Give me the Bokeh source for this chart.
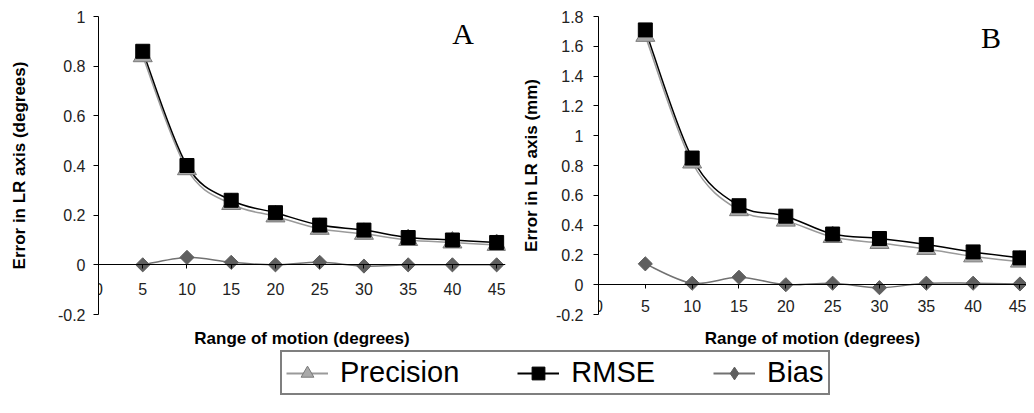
from bokeh.plotting import figure
from bokeh.layouts import column, row
from bokeh.models import (ColumnDataSource, FixedTicker, Label, Legend, LegendItem,
                          LinearAxis, Range1d)
from bokeh.embed import file_html
from bokeh.resources import INLINE

# ---------------- data ----------------
motion = [5, 10, 15, 20, 25, 30, 35, 40, 45]

a_precision = [0.84, 0.385, 0.245, 0.195, 0.145, 0.125, 0.10, 0.09, 0.08]
a_rmse = [0.86, 0.40, 0.26, 0.21, 0.16, 0.14, 0.11, 0.10, 0.09]
a_bias = [0.0, 0.03, 0.01, 0.0, 0.01, -0.005, 0.0, 0.0, 0.0]

b_precision = [1.67, 0.82, 0.50, 0.43, 0.32, 0.28, 0.24, 0.19, 0.155]
b_rmse = [1.71, 0.85, 0.53, 0.46, 0.34, 0.31, 0.27, 0.22, 0.18]
b_bias = [0.14, 0.01, 0.05, 0.0, 0.01, -0.02, 0.01, 0.01, 0.005]

x_ticks = [0, 5, 10, 15, 20, 25, 30, 35, 40, 45]
a_y_ticks = [-0.2, 0, 0.2, 0.4, 0.6, 0.8, 1]
a_y_labels = ["-0.2", "0", "0.2", "0.4", "0.6", "0.8", "1"]
b_y_ticks = [-0.2, 0, 0.2, 0.4, 0.6, 0.8, 1, 1.2, 1.4, 1.6, 1.8]
b_y_labels = ["-0.2", "0", "0.2", "0.4", "0.6", "0.8", "1", "1.2", "1.4", "1.6", "1.8"]

series_names = ["Precision", "RMSE", "Bias"]
x_title = "Range of motion (degrees)"
a_y_title = "Error in LR axis (degrees)"
b_y_title = "Error in LR axis (mm)"

# ---------------- styles ----------------
SANS = "Liberation Sans"
SERIF = "Liberation Serif"
PREC_FILL = "#a9a9a9"
PREC_EDGE = "#7a7a7a"
PREC_LINE = "#9a9a9a"
BIAS_FILL = "#5f5f5f"
BIAS_LINE = "#727272"


def smooth_source(xs, ys):
    """Catmull-Rom segments expressed as cubic Bezier control points."""
    n = len(xs)
    d = dict(x0=[], y0=[], x1=[], y1=[], cx0=[], cy0=[], cx1=[], cy1=[])
    for i in range(n - 1):
        p0 = (xs[max(i - 1, 0)], ys[max(i - 1, 0)])
        p1 = (xs[i], ys[i])
        p2 = (xs[i + 1], ys[i + 1])
        p3 = (xs[min(i + 2, n - 1)], ys[min(i + 2, n - 1)])
        d["x0"].append(p1[0]); d["y0"].append(p1[1])
        d["x1"].append(p2[0]); d["y1"].append(p2[1])
        d["cx0"].append(p1[0] + (p2[0] - p0[0]) / 6.0)
        d["cy0"].append(p1[1] + (p2[1] - p0[1]) / 6.0)
        d["cx1"].append(p2[0] - (p3[0] - p1[0]) / 6.0)
        d["cy1"].append(p2[1] - (p3[1] - p1[1]) / 6.0)
    return ColumnDataSource(d)


def panel(width, height, xmax, ymin, ymax, yticks, ylabels, ytitle, prec, rmse, bias,
          mb_left, mb_right, ylab_standoff, ytick_standoff,
          xtick_standoff, letter, letter_x, letter_y):
    p = figure(width=width, height=height, x_range=(0, xmax), y_range=(ymin, ymax),
               output_backend="svg", toolbar_location=None,
               min_border_left=mb_left, min_border_right=mb_right,
               min_border_top=16, min_border_bottom=36,
               x_axis_location="below", y_axis_location="left")
    p.outline_line_color = None
    p.background_fill_color = "white"
    p.border_fill_color = "white"
    p.xgrid.visible = False
    p.ygrid.visible = False

    # y axis
    yax = p.yaxis[0]
    yax.ticker = FixedTicker(ticks=yticks)
    yax.major_label_overrides = {t: l for t, l in zip(yticks, ylabels)}
    yax.minor_tick_line_color = None
    yax.major_tick_in = 0
    yax.major_tick_out = 5
    yax.major_label_standoff = ytick_standoff
    yax.major_label_text_font = SANS
    yax.major_label_text_font_size = "16px"
    yax.major_label_text_color = "#222222"
    yax.axis_line_color = "black"
    yax.major_tick_line_color = "black"
    yax.axis_label = ytitle
    yax.axis_label_text_font = SANS
    yax.axis_label_text_font_size = "17px"
    yax.axis_label_text_font_style = "bold"
    yax.axis_label_text_color = "black"
    yax.axis_label_standoff = ylab_standoff

    # x axis at y = 0
    xax = p.xaxis[0]
    xax.fixed_location = 0
    xax.ticker = FixedTicker(ticks=x_ticks)
    xax.minor_tick_line_color = None
    xax.major_tick_in = 0
    xax.major_tick_out = 4
    xax.major_label_standoff = xtick_standoff
    xax.major_label_text_font = SANS
    xax.major_label_text_font_size = "16px"
    xax.major_label_text_color = "#222222"
    xax.axis_line_color = "black"
    xax.major_tick_line_color = "black"

    # x-axis title below the plot area (title-only axis)
    tax = LinearAxis(ticker=FixedTicker(ticks=[]), axis_label=x_title,
                     axis_line_color=None, major_tick_line_color=None,
                     minor_tick_line_color=None, major_label_text_font_size="0px",
                     axis_label_text_font=SANS, axis_label_text_font_size="17px",
                     axis_label_text_font_style="bold", axis_label_text_color="black",
                     axis_label_standoff=14)
    p.add_layout(tax, "below")

    # smoothed lines
    p.bezier(x0="x0", y0="y0", x1="x1", y1="y1", cx0="cx0", cy0="cy0",
             cx1="cx1", cy1="cy1", source=smooth_source(motion, prec),
             line_color=PREC_LINE, line_width=1.5)
    p.bezier(x0="x0", y0="y0", x1="x1", y1="y1", cx0="cx0", cy0="cy0",
             cx1="cx1", cy1="cy1", source=smooth_source(motion, rmse),
             line_color="black", line_width=1.5)
    p.bezier(x0="x0", y0="y0", x1="x1", y1="y1", cx0="cx0", cy0="cy0",
             cx1="cx1", cy1="cy1", source=smooth_source(motion, bias),
             line_color=BIAS_LINE, line_width=1.5)

    # markers
    p.scatter(motion, prec, marker="triangle", size=19, fill_color=PREC_FILL,
              line_color=PREC_EDGE, line_width=1)
    p.scatter(motion, rmse, marker="square", size=14, fill_color="black",
              line_color="black", line_width=1)
    p.scatter(motion, bias, marker="square", angle=0.785398, size=10,
              fill_color=BIAS_FILL, line_color=BIAS_FILL, line_width=1)

    p.add_layout(Label(x=letter_x, y=letter_y, text=letter, text_font=SERIF,
                       text_font_size="30px", text_align="center",
                       text_baseline="middle", text_color="black"))
    return p


pa = panel(512, 350, 46, -0.2, 1.0, a_y_ticks, a_y_labels, a_y_title,
           a_precision, a_rmse, a_bias,
           mb_left=98, mb_right=7,
           ylab_standoff=26, ytick_standoff=8, xtick_standoff=14,
           letter="A", letter_x=41.2, letter_y=0.93)

pb = panel(514, 350, 45.7, -0.2, 1.8, b_y_ticks, b_y_labels, b_y_title,
           b_precision, b_rmse, b_bias,
           mb_left=86, mb_right=0,
           ylab_standoff=12, ytick_standoff=10, xtick_standoff=11,
           letter="B", letter_x=41.9, letter_y=1.66)

# ---------------- legend strip ----------------
pl = figure(width=1026, height=47, output_backend="svg", toolbar_location=None,
            x_range=Range1d(1000, 1001), y_range=Range1d(1000, 1001),
            x_axis_location=None, y_axis_location=None,
            min_border_left=0, min_border_right=0, min_border_top=0, min_border_bottom=0)
pl.outline_line_color = None
pl.xgrid.visible = False
pl.ygrid.visible = False
l1 = pl.line(motion, a_precision, line_color=PREC_LINE, line_width=2)
m1 = pl.scatter(motion, a_precision, marker="triangle", size=24,
                fill_color=PREC_FILL, line_color=PREC_EDGE)
l2 = pl.line(motion, a_rmse, line_color="black", line_width=2)
m2 = pl.scatter(motion, a_rmse, marker="square", size=18,
                fill_color="black", line_color="black")
l3 = pl.line(motion, a_bias, line_color=BIAS_LINE, line_width=2)
m3 = pl.scatter(motion, a_bias, marker="diamond", size=26,
                fill_color=BIAS_FILL, line_color=BIAS_FILL)

legend = Legend(items=[LegendItem(label=series_names[0], renderers=[l1, m1]),
                       LegendItem(label=series_names[1], renderers=[l2, m2]),
                       LegendItem(label=series_names[2], renderers=[l3, m3])],
                orientation="horizontal", location=(280, 2),
                label_text_font=SANS, label_text_font_size="29px",
                label_text_color="black", label_standoff=12,
                glyph_width=42, glyph_height=32, label_height=32,
                spacing=58, padding=4, margin=0,
                border_line_color="black", border_line_width=2,
                background_fill_color="white", background_fill_alpha=1)
pl.add_layout(legend, "center")

layout = column(row(pa, pb), pl)
open("out.html", "w").write(file_html(layout, INLINE))
